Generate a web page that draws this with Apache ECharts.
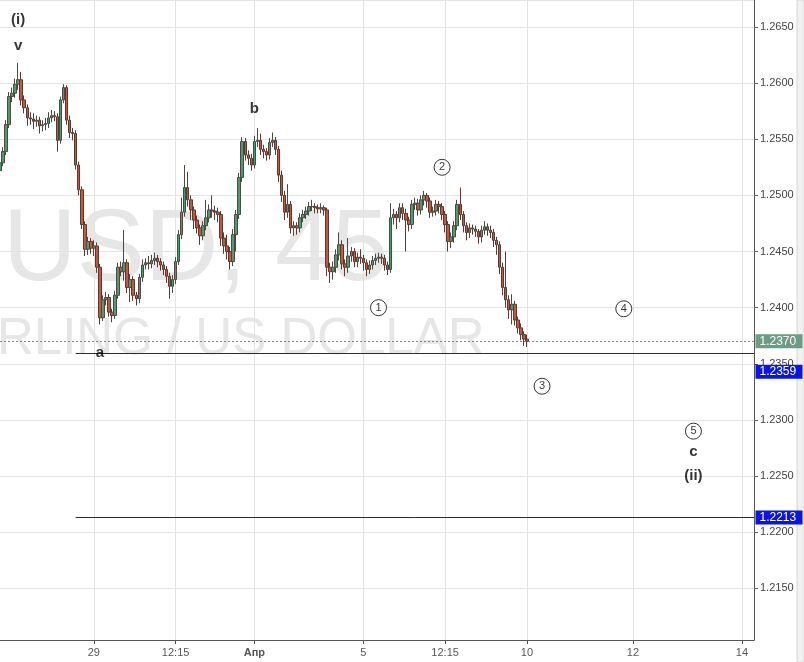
<!DOCTYPE html>
<html><head><meta charset="utf-8">
<script src="https://cdn.jsdelivr.net/npm/echarts@6/dist/echarts.min.js"></script>
<style>html,body{margin:0;padding:0;background:#fff}#c{width:804px;height:662px}</style>
</head><body><div id="c"></div>
<script>
const slotCount = 250;
const tickIdx = [31, 58, 84, 120, 147, 174, 209, 245];
const tickText = ['29', '12:15', 'Апр', '5', '12:15', '10', '12', '14'];

const opens = [1.2522,1.2529,1.2539,1.2563,1.2588,1.2591,1.2599,1.2603,1.2585,1.2578,
1.2569,1.2568,1.2566,1.2567,1.2562,1.2563,1.2564,1.2569,1.2571,1.2570,
1.2549,1.2585,1.2596,1.2567,1.2556,1.2555,1.2527,1.2505,1.2474,1.2452,
1.2459,1.2453,1.2455,1.2436,1.2391,1.2407,1.2409,1.2396,1.2393,1.2411,
1.2436,1.2432,1.2440,1.2418,1.2425,1.2411,1.2408,1.2427,1.2438,1.2440,
1.2439,1.2442,1.2444,1.2441,1.2438,1.2434,1.2428,1.2419,1.2425,1.2441,
1.2465,1.2485,1.2507,1.2496,1.2487,1.2478,1.2471,1.2464,1.2473,1.2480,
1.2487,1.2486,1.2485,1.2483,1.2462,1.2455,1.2450,1.2441,1.2465,1.2483,
1.2516,1.2548,1.2536,1.2533,1.2527,1.2548,1.2549,1.2541,1.2539,1.2536,
1.2547,1.2549,1.2541,1.2518,1.2500,1.2485,1.2492,1.2471,1.2473,1.2471,
1.2480,1.2483,1.2486,1.2490,1.2490,1.2489,1.2488,1.2489,1.2487,1.2436,
1.2432,1.2436,1.2447,1.2456,1.2439,1.2436,1.2446,1.2450,1.2441,1.2445,
1.2444,1.2440,1.2434,1.2438,1.2442,1.2444,1.2445,1.2444,1.2438,1.2434,
1.2480,1.2483,1.2480,1.2489,1.2484,1.2478,1.2474,1.2492,1.2493,1.2487,
1.2496,1.2500,1.2495,1.2485,1.2486,1.2492,1.2490,1.2483,1.2474,1.2459,
1.2463,1.2473,1.2492,1.2483,1.2473,1.2467,1.2471,1.2470,1.2468,1.2463,
1.2469,1.2472,1.2469,1.2467,1.2460,1.2456,1.2436,1.2418,1.2407,1.2398,
1.2403,1.2389,1.2382,1.2376,1.2372];

const closes = [1.2529,1.2539,1.2563,1.2588,1.2591,1.2599,1.2603,1.2585,1.2578,1.2569,
1.2568,1.2566,1.2567,1.2562,1.2563,1.2564,1.2569,1.2571,1.2570,1.2549,
1.2585,1.2596,1.2567,1.2556,1.2555,1.2527,1.2505,1.2474,1.2452,1.2459,
1.2453,1.2455,1.2436,1.2391,1.2407,1.2409,1.2396,1.2393,1.2411,1.2436,
1.2432,1.2440,1.2418,1.2425,1.2411,1.2408,1.2427,1.2438,1.2440,1.2439,
1.2442,1.2444,1.2441,1.2438,1.2434,1.2428,1.2419,1.2425,1.2441,1.2465,
1.2485,1.2507,1.2496,1.2487,1.2478,1.2471,1.2464,1.2473,1.2480,1.2487,
1.2486,1.2485,1.2483,1.2462,1.2455,1.2450,1.2441,1.2465,1.2483,1.2516,
1.2548,1.2536,1.2533,1.2527,1.2548,1.2549,1.2541,1.2539,1.2536,1.2547,
1.2549,1.2541,1.2518,1.2500,1.2485,1.2492,1.2471,1.2473,1.2471,1.2480,
1.2483,1.2486,1.2490,1.2490,1.2489,1.2488,1.2489,1.2487,1.2436,1.2432,
1.2436,1.2447,1.2456,1.2439,1.2436,1.2446,1.2450,1.2441,1.2445,1.2444,
1.2440,1.2434,1.2438,1.2442,1.2444,1.2445,1.2444,1.2438,1.2434,1.2480,
1.2483,1.2480,1.2489,1.2484,1.2478,1.2474,1.2492,1.2493,1.2487,1.2496,
1.2500,1.2495,1.2485,1.2486,1.2492,1.2490,1.2483,1.2474,1.2459,1.2463,
1.2473,1.2492,1.2483,1.2473,1.2467,1.2471,1.2470,1.2468,1.2463,1.2469,
1.2472,1.2469,1.2467,1.2460,1.2456,1.2436,1.2418,1.2407,1.2398,1.2403,
1.2389,1.2382,1.2376,1.2372,1.2370];

const lows = [1.2518,1.2526,1.2536,1.2560,1.2583,1.2587,1.2594,1.2580,1.2573,1.2562,
1.2563,1.2559,1.2561,1.2555,1.2557,1.2558,1.2560,1.2565,1.2566,1.2539,
1.2546,1.2582,1.2563,1.2551,1.2549,1.2523,1.2500,1.2470,1.2446,1.2447,
1.2448,1.2446,1.2431,1.2385,1.2388,1.2402,1.2392,1.2387,1.2390,1.2408,
1.2428,1.2424,1.2413,1.2405,1.2406,1.2402,1.2404,1.2423,1.2434,1.2434,
1.2435,1.2438,1.2436,1.2433,1.2429,1.2422,1.2408,1.2413,1.2421,1.2438,
1.2461,1.2481,1.2490,1.2478,1.2470,1.2466,1.2456,1.2460,1.2469,1.2476,
1.2480,1.2478,1.2476,1.2455,1.2448,1.2443,1.2434,1.2437,1.2450,1.2479,
1.2512,1.2531,1.2527,1.2522,1.2524,1.2543,1.2536,1.2533,1.2531,1.2532,
1.2543,1.2536,1.2512,1.2494,1.2478,1.2480,1.2466,1.2464,1.2465,1.2467,
1.2476,1.2479,1.2482,1.2486,1.2484,1.2484,1.2484,1.2482,1.2428,1.2422,
1.2425,1.2431,1.2442,1.2434,1.2428,1.2431,1.2441,1.2436,1.2436,1.2439,
1.2433,1.2428,1.2430,1.2434,1.2438,1.2440,1.2439,1.2433,1.2429,1.2431,
1.2474,1.2470,1.2476,1.2478,1.2450,1.2468,1.2470,1.2487,1.2482,1.2483,
1.2491,1.2489,1.2480,1.2481,1.2482,1.2484,1.2478,1.2467,1.2450,1.2453,
1.2458,1.2469,1.2478,1.2467,1.2460,1.2462,1.2465,1.2463,1.2457,1.2458,
1.2465,1.2464,1.2462,1.2454,1.2447,1.2430,1.2411,1.2400,1.2390,1.2385,
1.2384,1.2377,1.2371,1.2366,1.2365];

const highs = [1.2533,1.2543,1.2567,1.2592,1.2596,1.2604,1.2618,1.2610,1.2589,1.2581,
1.2574,1.2573,1.2571,1.2570,1.2567,1.2569,1.2574,1.2576,1.2575,1.2573,
1.2588,1.2599,1.2598,1.2571,1.2560,1.2558,1.2530,1.2508,1.2477,1.2463,
1.2462,1.2460,1.2458,1.2439,1.2411,1.2414,1.2412,1.2399,1.2415,1.2440,
1.2441,1.2469,1.2443,1.2430,1.2428,1.2414,1.2430,1.2443,1.2444,1.2446,
1.2447,1.2449,1.2447,1.2444,1.2441,1.2437,1.2431,1.2429,1.2445,1.2469,
1.2498,1.2527,1.2521,1.2500,1.2490,1.2482,1.2474,1.2477,1.2496,1.2492,
1.2500,1.2491,1.2489,1.2486,1.2467,1.2465,1.2454,1.2470,1.2487,1.2520,
1.2552,1.2551,1.2540,1.2537,1.2553,1.2560,1.2555,1.2545,1.2542,1.2551,
1.2556,1.2552,1.2544,1.2522,1.2504,1.2510,1.2495,1.2477,1.2476,1.2484,
1.2487,1.2490,1.2494,1.2496,1.2493,1.2492,1.2493,1.2491,1.2489,1.2440,
1.2441,1.2452,1.2467,1.2460,1.2443,1.2462,1.2454,1.2453,1.2449,1.2452,
1.2447,1.2443,1.2442,1.2446,1.2448,1.2449,1.2448,1.2447,1.2441,1.2493,
1.2488,1.2486,1.2493,1.2493,1.2488,1.2481,1.2496,1.2498,1.2497,1.2500,
1.2504,1.2502,1.2498,1.2490,1.2496,1.2495,1.2493,1.2486,1.2477,1.2467,
1.2477,1.2496,1.2507,1.2486,1.2476,1.2475,1.2474,1.2473,1.2470,1.2473,
1.2477,1.2475,1.2473,1.2470,1.2463,1.2459,1.2440,1.2450,1.2411,1.2412,
1.2406,1.2392,1.2386,1.2379,1.2376];

// Elliott wave annotations
const waveText  = ['(i)', 'v', 'b', 'a', 'c', '(ii)'];
const waveIdx   = [6, 6, 84, 33, 229, 229];
const wavePrice = [1.2656, 1.2633, 1.2577, 1.2360, 1.2272, 1.2250];
const circText  = ['1', '2', '3', '4', '5'];
const circIdx   = [125, 146, 179, 206, 229];
const circPrice = [1.2400, 1.2525, 1.2330, 1.2399, 1.2290];

const lastPrice = 1.2370;
const levelPrices = [1.2359, 1.2213];
const levelStartIdx = 25;

const categories = [];
for (let i = 0; i < slotCount; i++) categories.push('');
tickIdx.forEach((k, j) => { categories[k] = tickText[j]; });
const candles = opens.map((o, i) => [o, closes[i], lows[i], highs[i]]);
const showTick = (idx) => tickIdx.indexOf(idx) >= 0;

const chart = echarts.init(document.getElementById('c'));
const FONT = 'Liberation Sans, Arial, sans-serif';

const tagPoints = [
  { coord: [slotCount - 1, lastPrice], text: lastPrice.toFixed(4), bg: '#6a9e82', dy: 0 },
  { coord: [slotCount - 1, levelPrices[0]], text: levelPrices[0].toFixed(4), bg: '#0a14e6', dy: 18 },
  { coord: [slotCount - 1, levelPrices[1]], text: levelPrices[1].toFixed(4), bg: '#0a14e6', dy: 0 }
].map(t => ({
  coord: t.coord, symbol: 'rect', symbolSize: 1, itemStyle: { color: 'rgba(0,0,0,0)' },
  label: {
    show: true, position: 'right', distance: 1, offset: [0, t.dy], formatter: t.text,
    color: '#fff', backgroundColor: t.bg, fontFamily: FONT, fontSize: 12,
    padding: [1, 5, 1, 4], width: 38
  }
}));

chart.setOption({
  backgroundColor: '#fff',
  animation: false,
  graphic: [
    { type: 'text', z: -10, silent: true, style: { text: 'USD, 45', x: 3, y: 252, fontSize: 102, fontFamily: FONT, fill: '#e6e6e6', verticalAlign: 'middle' } },
    { type: 'text', z: -10, silent: true, style: { text: 'RLING / US DOLLAR', x: -3, y: 340, fontSize: 51, fontFamily: FONT, fill: '#e6e6e6', verticalAlign: 'middle' } },
    { type: 'rect', z: -10, silent: true, shape: { x: 797, y: 0, width: 7, height: 662 }, style: { fill: '#f1f1f1', stroke: '#d6d6d6', lineWidth: 1 } }
  ],
  grid: { left: 0, right: 50, top: 0, bottom: 22 },
  xAxis: {
    type: 'category', data: categories, boundaryGap: false,
    axisLine: { show: true, lineStyle: { color: '#555', width: 1 } },
    axisTick: { show: true, interval: (i) => showTick(i), length: 4, lineStyle: { color: '#555' } },
    axisLabel: {
      interval: (i) => showTick(i), color: '#555', fontSize: 11, margin: 7,
      fontFamily: 'Liberation Sans Narrow, ' + FONT,
      formatter: (v) => v === 'Апр' ? '{b|' + v + '}' : v,
      rich: { b: { fontWeight: 'bold', color: '#555', fontSize: 11, fontFamily: 'Liberation Sans Narrow, ' + FONT } }
    },
    splitLine: { show: true, interval: (i) => showTick(i), lineStyle: { color: '#e3e3e3', width: 1 } }
  },
  yAxis: {
    type: 'value', position: 'right', scale: true, min: 1.2104, max: 1.2674, splitNumber: 11,
    axisLine: { show: true, lineStyle: { color: '#555', width: 1 } },
    axisTick: { show: true, length: 4, lineStyle: { color: '#555' } },
    axisLabel: { color: '#444', fontSize: 11, fontFamily: FONT, margin: 6, showMinLabel: false, showMaxLabel: false,
      formatter: (v) => v.toFixed(4) },
    splitLine: { show: true, lineStyle: { color: '#e3e3e3', width: 1 } }
  },
  series: [
    {
      type: 'candlestick', data: candles, barWidth: 3,
      itemStyle: { color: '#4f9a6e', color0: '#c8563f', borderColor: '#4a4a40', borderColor0: '#5a3a2e', borderWidth: 1 },
      markLine: {
        silent: true, symbol: ['none', 'none'], animation: false, label: { show: false }, z: 5,
        lineStyle: { color: '#5f9a7c', type: [2, 2], width: 1 },
        data: [[{ coord: [0, lastPrice] }, { coord: [slotCount - 1, lastPrice] }]]
      },
      markPoint: { silent: true, animation: false, data: tagPoints, z: 10 }
    },
    {
      type: 'line', data: [], silent: true,
      markLine: {
        silent: true, symbol: ['none', 'none'], animation: false, label: { show: false }, z: 5,
        lineStyle: { color: '#1c1ca8', type: 'solid', width: 1 },
        data: levelPrices.map(p => [{ coord: [levelStartIdx, p] }, { coord: [slotCount - 1, p] }])
      }
    },
    {
      type: 'scatter', silent: true, z: 6,
      data: waveIdx.map((x, i) => [x, wavePrice[i]]),
      symbolSize: 1, itemStyle: { color: 'rgba(0,0,0,0)' },
      label: { show: true, position: 'inside', formatter: (p) => waveText[p.dataIndex], color: '#000', fontWeight: 'bold', fontSize: 15, fontFamily: FONT }
    },
    {
      type: 'scatter', silent: true, z: 6,
      data: circIdx.map((x, i) => [x, circPrice[i]]),
      symbol: 'circle', symbolSize: 16,
      itemStyle: { color: '#fff', borderColor: '#000', borderWidth: 1 },
      label: { show: true, position: 'inside', formatter: (p) => circText[p.dataIndex], color: '#000', fontSize: 11, fontFamily: FONT }
    }
  ]
});
</script></body></html>
